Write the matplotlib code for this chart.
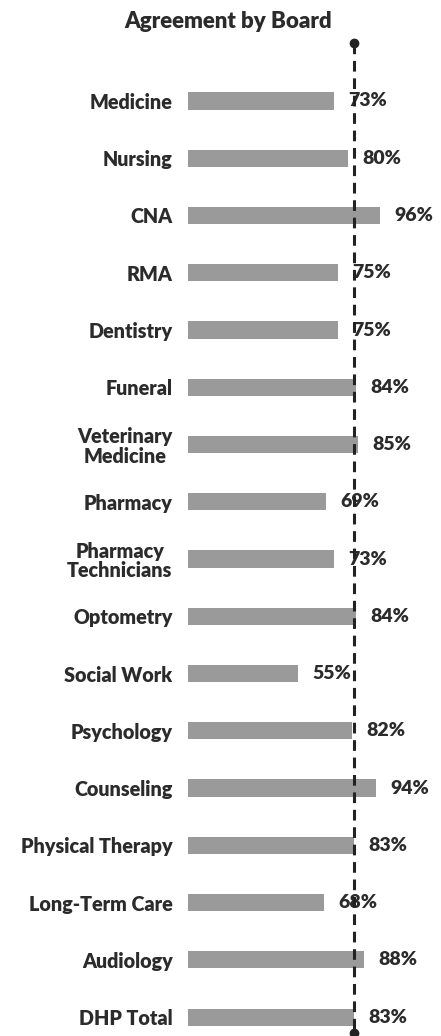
import matplotlib
matplotlib.use("Agg")
import matplotlib.pyplot as plt

boards = ["Medicine", "Nursing", "CNA", "RMA", "Dentistry", "Funeral",
          "Veterinary\nMedicine", "Pharmacy", "Pharmacy\nTechnicians",
          "Optometry", "Social Work", "Psychology", "Counseling",
          "Physical Therapy", "Long-Term Care", "Audiology", "DHP Total"]
agree = [73, 80, 96, 75, 75, 84, 85, 69, 73, 84, 55, 82, 94, 83, 68, 88, 83]
title = "Agreement by Board"

plt.rcParams['font.family'] = ['Lato', 'DejaVu Sans']

fig = plt.figure(figsize=(4.41, 10.36), dpi=100)
ax = fig.add_axes([0.426, 0.0, 0.574, 0.9614])

y = list(range(len(boards)))
ax.barh(y, agree, height=0.3, color='#9a9a9a', edgecolor='none')

for i, v in enumerate(agree):
    ax.annotate(f"{v}%", (v, i), xytext=(10.5, 0), textcoords='offset points',
                ha='left', va='center', fontsize=14, fontweight='heavy',
                color='#2b2b2b')

# reference line at the DHP total
total = agree[-1]
ax.plot([total, total], [-1.01, 16.28], color='#222222', lw=2.2,
        dashes=(3.5, 2.2), clip_on=False, zorder=3)
ax.plot([total, total], [-1.01, 16.28], 'o', color='#222222', ms=6,
        clip_on=False, zorder=3)

ax.set_xlim(0, 126.5)
ax.set_ylim(16.33, -1.065)
ax.set_yticks(y)
ax.set_yticklabels(boards, fontsize=14.2, fontweight='heavy', color='#2b2b2b',
                   linespacing=1.05, multialignment='center')
ax.tick_params(axis='y', length=0, pad=11)
ax.set_xticks([])
for s in ax.spines.values():
    s.set_visible(False)

fig.text(0.517, 0.979, title, ha='center', va='center', fontsize=16,
         fontweight='heavy', color='#2b2b2b')

fig.savefig("out.png", dpi=100, facecolor='white')
